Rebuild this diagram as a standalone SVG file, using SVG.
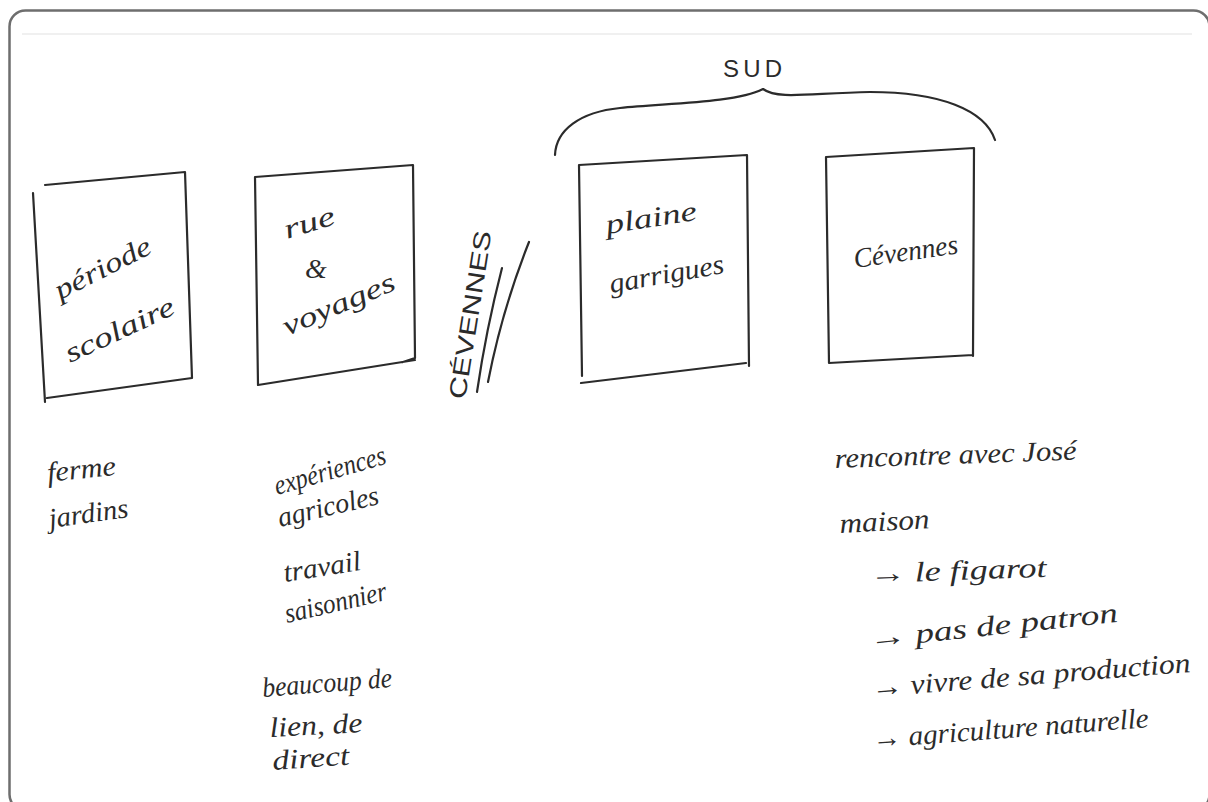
<svg xmlns="http://www.w3.org/2000/svg" width="1208" height="802" viewBox="0 0 1208 802">
<style>
.ink{fill:none;stroke:#2b2b2b;stroke-width:2.2;stroke-linecap:round;stroke-linejoin:round}
.h{font-family:"Liberation Serif","DejaVu Serif",serif;font-style:italic;font-size:28px;fill:#2b2b2b}
.caps{font-family:"Liberation Sans","DejaVu Sans",sans-serif;font-size:24px;fill:#2b2b2b}
</style>
<rect x="0" y="0" width="1208" height="802" fill="#ffffff"/>
<rect x="9.5" y="10.5" width="1200" height="800" rx="16" fill="none" stroke="#6e6e6e" stroke-width="2.5"/>
<line x1="22" y1="34" x2="1192" y2="34" stroke="#f0f0f0" stroke-width="2"/>

<g id="node-periode-scolaire">
<path class="ink" d="M33,193 L45,402 M45,185 L185,172 L192,378 M47,398 L192,378"/>
<text class="h" x="60" y="300" transform="rotate(-27 60 300)" textLength="105" lengthAdjust="spacingAndGlyphs">période</text>
<text class="h" x="70" y="363" transform="rotate(-25 70 363)" textLength="118" lengthAdjust="spacingAndGlyphs">scolaire</text>
</g>

<g id="node-rue-voyages">
<path class="ink" d="M255,177 L258,385 M255,177 L413,165 L415,358 L403,362 M258,385 L415,360"/>
<text class="h" x="287" y="239" transform="rotate(-17 287 239)" textLength="52" lengthAdjust="spacingAndGlyphs">rue</text>
<text class="h" x="305" y="278" font-size="24">&amp;</text>
<text class="h" x="287" y="336" transform="rotate(-23 287 336)" textLength="120" lengthAdjust="spacingAndGlyphs">voyages</text>
</g>

<g id="node-cevennes-label">
<text class="caps" x="465" y="400" transform="rotate(-81 465 400)" textLength="170" lengthAdjust="spacingAndGlyphs">CÉVENNES</text>
</g>

<g id="node-plaine-garrigues">
<path class="ink" d="M579,165 L582,376 M579,165 L747,155 L749,366 M581,383 L746,363"/>
<text class="h" x="607" y="234" transform="rotate(-9 607 234)" textLength="92" lengthAdjust="spacingAndGlyphs">plaine</text>
<text class="h" x="611" y="293" transform="rotate(-10 611 293)" textLength="116" lengthAdjust="spacingAndGlyphs">garrigues</text>
</g>

<g id="node-cevennes">
<path class="ink" d="M826,157 L829,363 M826,157 L974,148 L973,356 M829,363 L973,355"/>
<text class="h" x="855" y="268" transform="rotate(-8 855 268)" textLength="105" lengthAdjust="spacingAndGlyphs">Cévennes</text>
</g>

<g id="node-sud">
<text class="caps" x="723" y="77" font-size="20" textLength="59" lengthAdjust="spacing">SUD</text>
</g>

<g id="connectors">
<path class="ink" d="M555,155 C556,130 580,112 620,108 C670,103 735,103 763,89 C778,100 810,93 870,92 C940,92 985,110 995,140"/>
<path class="ink" d="M477,392 Q486,330 502,268"/>
<path class="ink" d="M488,382 Q502,310 529,242"/>
</g>

<g id="notes-periode">
<text class="h" x="48" y="482" transform="rotate(-6 48 482)" textLength="69" lengthAdjust="spacingAndGlyphs">ferme</text>
<text class="h" x="50" y="528" transform="rotate(-8 50 528)" textLength="80" lengthAdjust="spacingAndGlyphs">jardins</text>
</g>

<g id="notes-voyages">
<text class="h" x="277" y="495" transform="rotate(-16 277 495)" textLength="115" lengthAdjust="spacingAndGlyphs">expériences</text>
<text class="h" x="280" y="527" transform="rotate(-13 280 527)" textLength="103" lengthAdjust="spacingAndGlyphs">agricoles</text>
<text class="h" x="285" y="582" transform="rotate(-9 285 582)" textLength="78" lengthAdjust="spacingAndGlyphs">travail</text>
<text class="h" x="287" y="623" transform="rotate(-13 287 623)" textLength="104" lengthAdjust="spacingAndGlyphs">saisonnier</text>
<text class="h" x="263" y="697" transform="rotate(-4.5 263 697)" textLength="130" lengthAdjust="spacingAndGlyphs">beaucoup de</text>
<text class="h" x="270" y="737" transform="rotate(-3 270 737)" textLength="93" lengthAdjust="spacingAndGlyphs">lien, de</text>
<text class="h" x="273" y="770" transform="rotate(-4 273 770)" textLength="77" lengthAdjust="spacingAndGlyphs">direct</text>
</g>

<g id="notes-cevennes">
<text class="h" x="835" y="468" transform="rotate(-2 835 468)" textLength="242" lengthAdjust="spacingAndGlyphs">rencontre avec José</text>
<text class="h" x="840" y="533" transform="rotate(-3 840 533)" textLength="90" lengthAdjust="spacingAndGlyphs">maison</text>
<text class="h" x="870" y="583" transform="rotate(-2 870 583)" textLength="177" lengthAdjust="spacingAndGlyphs">→ le figarot</text>
<text class="h" x="870" y="648" transform="rotate(-6 870 648)" textLength="250" lengthAdjust="spacingAndGlyphs">→ pas de patron</text>
<text class="h" x="872" y="697" transform="rotate(-4.5 872 697)" textLength="320" lengthAdjust="spacingAndGlyphs">→ vivre de sa production</text>
<text class="h" x="873" y="748" transform="rotate(-4.3 873 748)" textLength="277" lengthAdjust="spacingAndGlyphs">→ agriculture naturelle</text>
</g>
</svg>
